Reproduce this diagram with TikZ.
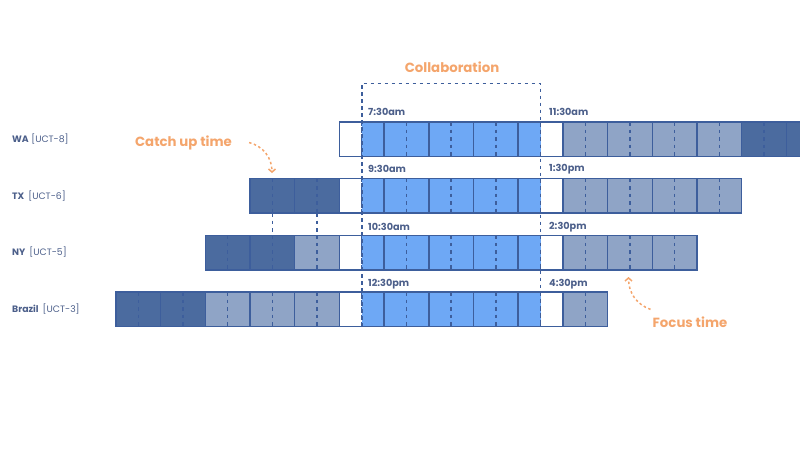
\documentclass[tikz,border=0pt]{standalone}
\usepackage{fontspec}
\setmainfont{Poppins}
\usetikzlibrary{positioning,arrows.meta}

\definecolor{slotblue}{HTML}{6EA8F5}
\definecolor{slotgrey}{HTML}{8FA4C6}
\definecolor{slotdark}{HTML}{4B6B9F}
\definecolor{slotline}{HTML}{3D5E9C}
\definecolor{labelblue}{HTML}{4C5F8A}
\definecolor{noteorange}{HTML}{F4A56C}

% grid of half-hour cells
\def\xo{361.7}
\def\cw{22.35}
\def\bh{34.5}

\newcommand{\slots}[4]{% top, first cell, last cell, colour
  \fill[#4] ({\xo+(#2)*\cw},#1) rectangle ({\xo+(#3+1)*\cw},#1+\bh);
}
\newcommand{\ticks}[3]{% top, first edge, last edge
  \foreach \k in {#2,...,#3} {
    \ifodd\k
      \draw[hourline] ({\xo+\k*\cw},#1) -- ({\xo+\k*\cw},#1+\bh);
    \else
      \draw[halfline] ({\xo+\k*\cw},#1) -- ({\xo+\k*\cw},#1+\bh);
    \fi
  }
  \draw[hourline] ({\xo+(#2)*\cw},#1) rectangle ({\xo+(#3)*\cw},#1+\bh);
}

\tikzset{
  timelabel/.style={anchor=west, inner sep=0pt, font=\bfseries\fontsize{9.7}{11}\selectfont, text=labelblue},
  rowlabel/.style={anchor=west, inner sep=0pt, font=\fontsize{9.3}{11}\selectfont, text=labelblue},
  notelabel/.style={inner sep=0pt, font=\bfseries\fontsize{13.3}{15}\selectfont, text=noteorange},
  noteline/.style={noteorange, line width=1.5pt, dash pattern=on 2.5pt off 2.5pt, -{Straight Barb[length=3pt,width=7pt]}},
  collabline/.style={slotline, line width=1.6pt, dash pattern=on 3.5pt off 3.5pt},
  halfline/.style={slotline, line width=1.4pt, dash pattern=on 3.5pt off 4pt},
  hourline/.style={slotline, line width=1.5pt},
}

\begin{document}
\begin{tikzpicture}[x=1pt, y=-1pt]
    \useasboundingbox (0,0) rectangle (800,450);
    \clip (0,0) rectangle (800,450);

    % Row labels
    \node[rowlabel] (wa) at (12,139) {\textbf{WA} [UCT-8]};
    \node[rowlabel] (tx) at (12,196) {\textbf{TX}\hspace{4pt}[UCT-6]};
    \node[rowlabel] (ny) at (12,252.5) {\textbf{NY}\hspace{4pt}[UCT-5]};
    \node[rowlabel] (brazil) at (12,309) {\textbf{Brazil}\hspace{4pt}[UCT-3]};

    % WA
    \slots{122}{-1}{-1}{white}
    \slots{122}{0}{7}{slotblue}
    \slots{122}{8}{8}{white}
    \slots{122}{9}{16}{slotgrey}
    \slots{122}{17}{20}{slotdark}
    \ticks{122}{-1}{21}

    % TX
    \slots{178.7}{-5}{-2}{slotdark}
    \slots{178.7}{-1}{-1}{white}
    \slots{178.7}{0}{7}{slotblue}
    \slots{178.7}{8}{8}{white}
    \slots{178.7}{9}{16}{slotgrey}
    \ticks{178.7}{-5}{17}

    % NY
    \slots{235.3}{-7}{-4}{slotdark}
    \slots{235.3}{-3}{-2}{slotgrey}
    \slots{235.3}{-1}{-1}{white}
    \slots{235.3}{0}{7}{slotblue}
    \slots{235.3}{8}{8}{white}
    \slots{235.3}{9}{14}{slotgrey}
    \ticks{235.3}{-7}{15}

    % Brazil
    \slots{292}{-11}{-8}{slotdark}
    \slots{292}{-7}{-2}{slotgrey}
    \slots{292}{-1}{-1}{white}
    \slots{292}{0}{7}{slotblue}
    \slots{292}{8}{8}{white}
    \slots{292}{9}{10}{slotgrey}
    \ticks{292}{-11}{11}

    % half hours carried on between TX and NY
    \foreach \k in {-4,-2} {
        \draw[halfline] ({\xo+\k*\cw},{178.7+\bh}) -- ({\xo+\k*\cw},235.3);
    }

    % Collaboration window
    \coordinate (colbl) at (\xo,{292+\bh});
    \coordinate (coltl) at (\xo,83.5);
    \coordinate (colbr) at ({\xo+8*\cw},{292+\bh});
    \draw[collabline] (colbl) |- (coltl) -| (colbr);
    \node[notelabel] (collab) at (452,67) {Collaboration};

    % Times
    \node[timelabel] (wa-in) at (368,112) {7:30am};
    \node[timelabel] (wa-out) at (549,112) {11:30am};
    \node[timelabel] (tx-in) at (368,169) {9:30am};
    \node[timelabel] (tx-out) at (549,169) {1:30pm};
    \node[timelabel] (ny-in) at (368,227) {10:30am};
    \node[timelabel] (ny-out) at (549,227) {2:30pm};
    \node[timelabel] (brazil-in) at (368,284) {12:30pm};
    \node[timelabel] (brazil-out) at (549,284) {4:30pm};

    % Notes
    \node[notelabel] (catchup) at (183.5,142.5) {Catch up time};
    \node[notelabel] (focus) at (690,322) {Focus time};
    \coordinate (catchtip) at (272,173);
    \coordinate (focustip) at (628.5,277);
    \draw[noteline] ([xshift=17pt]catchup.east) to[out=-15, in=90] (catchtip);
    \draw[noteline] ([xshift=-2pt, yshift=7pt]focus.north west) to[out=160, in=-90] (focustip);
\end{tikzpicture}
\end{document}
